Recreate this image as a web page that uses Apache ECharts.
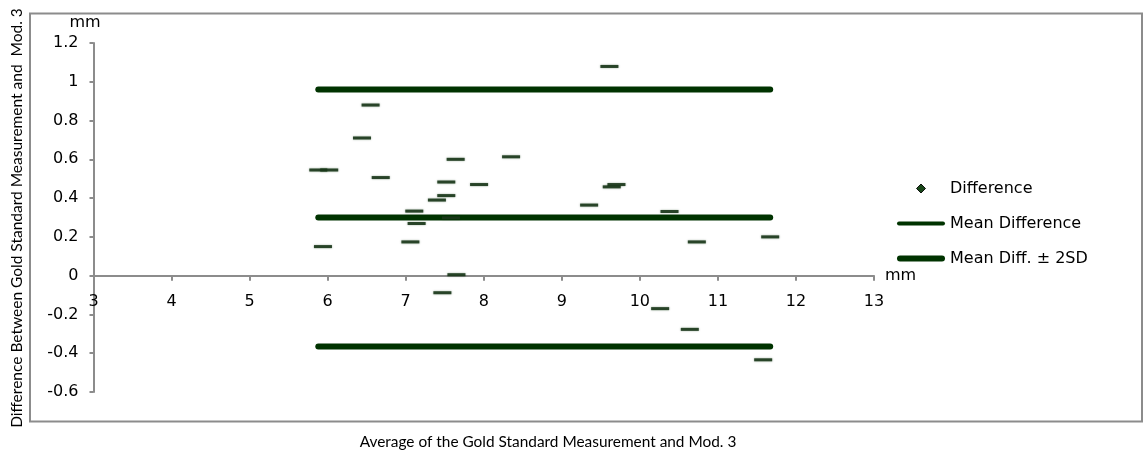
<!DOCTYPE html>
<html>
<head>
<meta charset="utf-8">
<script src="https://cdn.jsdelivr.net/npm/echarts@6/dist/echarts.min.js"></script>
<style>
  html, body { margin: 0; padding: 0; background: #fff; }
  #chart { width: 1144px; height: 453px; }
</style>
</head>
<body>
<div id="chart"></div>
<script>
// Average of the two measurements (x) and their difference (y), mm
const avgValues  = [6.55, 6.44, 7.64, 5.88, 6.02, 6.68, 7.52, 7.94, 7.52, 7.40, 7.11, 7.58, 7.14, 7.06, 5.94, 7.65, 7.47, 9.61, 8.35, 9.64, 9.70, 9.35, 10.38, 10.73, 11.67, 10.26, 10.64, 11.58];
const diffValues = [0.88, 0.71, 0.60, 0.545, 0.545, 0.506, 0.483, 0.470, 0.413, 0.390, 0.333, 0.298, 0.269, 0.174, 0.150, 0.005, -0.088, 1.079, 0.613, 0.458, 0.470, 0.364, 0.331, 0.174, 0.200, -0.170, -0.277, -0.434];
const meanDiff = 0.30;
const upperLimit = 0.96;
const lowerLimit = -0.365;
const seriesNames = ['Difference', 'Mean Difference', 'Mean Diff. \u00b1 2SD'];
const xTitle = 'Average of the Gold Standard Measurement and Mod. 3';
const yTitle = 'Difference Between Gold Standard Measurement and  Mod. 3';
const unitLabel = 'mm';

const GREEN = '#003300';
const AXIS = '#8c8c8c';
const LABEL_FONT = 'DejaVu Sans';
const LABEL_SIZE = 16;
const xMin = Math.min(...avgValues);
const xMax = Math.max(...avgValues);
const points = avgValues.map((v, i) => [v, diffValues[i]]);

const gridTop = 43, gridBottom = 61, chartH = 453;
const yMin = -0.6, yMax = 1.2;
const plotH = chartH - gridTop - gridBottom;
const zeroOffset = -plotH * (0 - yMin) / (yMax - yMin); // move x axis up to y = 0

const chart = echarts.init(document.getElementById('chart'), null, { renderer: 'canvas' });
chart.setOption({
  animation: false,
  backgroundColor: '#fff',
  grid: { left: 93.5, right: 270, top: gridTop, bottom: gridBottom, containLabel: false },
  xAxis: {
    type: 'value', min: 3, max: 13, interval: 1,
    offset: zeroOffset,
    name: unitLabel, nameLocation: 'end', nameGap: 11,
    nameTextStyle: { fontFamily: LABEL_FONT, fontSize: LABEL_SIZE, color: '#000', padding: [4, 0, 0, 0] },
    axisLine: { onZero: false, lineStyle: { color: AXIS, width: 2 } },
    axisTick: { show: true, length: 5, lineStyle: { color: AXIS, width: 2 } },
    axisLabel: { color: '#000', fontFamily: LABEL_FONT, fontSize: LABEL_SIZE, margin: 18 },
    splitLine: { show: false }
  },
  yAxis: {
    type: 'value', min: yMin, max: yMax, interval: 0.2,
    axisLine: { show: true, lineStyle: { color: AXIS, width: 2 } },
    axisTick: { show: true, length: 4, lineStyle: { color: AXIS, width: 2 } },
    axisLabel: { color: '#000', fontFamily: LABEL_FONT, fontSize: LABEL_SIZE, margin: 15 },
    splitLine: { show: false }
  },
  legend: {
    orient: 'vertical', left: 897, top: 180.5, padding: 0,
    itemWidth: 48, itemHeight: 9, itemGap: 19,
    selectedMode: false,
    textStyle: { fontFamily: LABEL_FONT, fontSize: LABEL_SIZE, color: '#000' },
    data: [
      { name: seriesNames[0], icon: 'path://M4,0L8,4L4,8L0,4Z', itemStyle: { color: GREEN, borderColor: '#000', borderWidth: 1 } },
      { name: seriesNames[1], icon: 'path://M2,0L46,0A2,2 0 0 1 46,4L2,4A2,2 0 0 1 2,0Z', itemStyle: { color: GREEN } },
      { name: seriesNames[2], icon: 'path://M3,0L45,0A3,3 0 0 1 45,6L3,6A3,3 0 0 1 3,0Z', itemStyle: { color: GREEN } }
    ]
  },
  series: [
    {
      name: seriesNames[1], type: 'line', symbol: 'none', z: 2,
      data: [[xMin, meanDiff], [xMax, meanDiff]],
      lineStyle: { color: GREEN, width: 6, cap: 'round' }, itemStyle: { color: GREEN }
    },
    {
      name: seriesNames[2], type: 'line', symbol: 'none', z: 2,
      data: [[xMin, upperLimit], [xMax, upperLimit]],
      lineStyle: { color: GREEN, width: 6, cap: 'round' }, itemStyle: { color: GREEN }
    },
    {
      name: seriesNames[2], type: 'line', symbol: 'none', z: 2,
      data: [[xMin, lowerLimit], [xMax, lowerLimit]],
      lineStyle: { color: GREEN, width: 6, cap: 'round' }, itemStyle: { color: GREEN }
    },
    {
      name: seriesNames[0], type: 'scatter', z: 3,
      symbol: 'rect', symbolSize: [18, 3],
      data: points,
      itemStyle: { color: '#1a361a', opacity: 0.9, shadowBlur: 2, shadowColor: 'rgba(0,50,0,0.45)' }
    }
  ],
  graphic: [
    { type: 'rect', silent: true, z: -1, shape: { x: 30, y: 13.5, width: 1112, height: 408 },
      style: { fill: 'none', stroke: AXIS, lineWidth: 2 } },
    { type: 'text', silent: true, x: 85, y: 23,
      style: { text: unitLabel, fontFamily: LABEL_FONT, fontSize: LABEL_SIZE, fill: '#000', align: 'center', verticalAlign: 'middle' } },
    { type: 'text', silent: true, x: 548, y: 442,
      style: { text: xTitle, fontFamily: 'Lato', fontSize: 15.4, fill: '#000', align: 'center', verticalAlign: 'middle' } },
    { type: 'text', silent: true, x: 16.5, y: 218, rotation: Math.PI / 2,
      style: { text: yTitle, fontFamily: 'Lato', fontSize: 15.5, fill: '#000', align: 'center', verticalAlign: 'middle' } }
  ]
});
</script>
</body>
</html>
